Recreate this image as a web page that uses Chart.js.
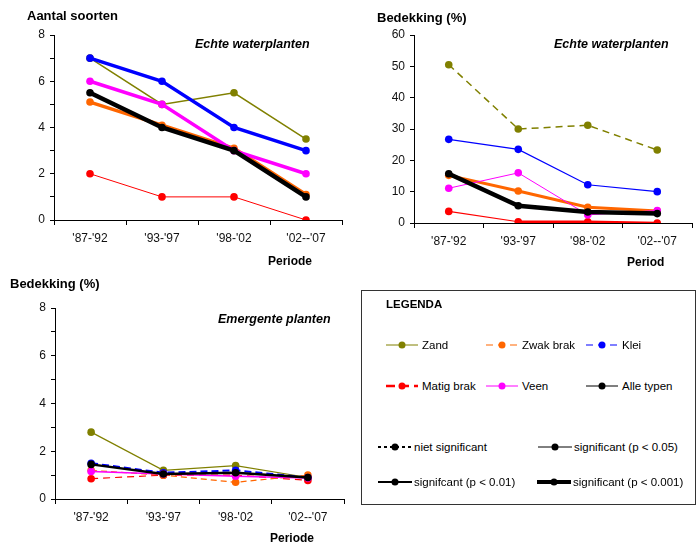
<!DOCTYPE html>
<html>
<head>
<meta charset="utf-8">
<script src="https://cdn.jsdelivr.net/npm/chart.js@4"></script>
<style>
  body { margin: 0; background: #fff; font-family: Arial, "Liberation Sans", sans-serif; color: #000; }
  #page { position: relative; width: 696px; height: 544px; overflow: hidden; }
  canvas { position: absolute; }
  .txt { position: absolute; white-space: nowrap; line-height: 14px; }
  .b { font-weight: bold; }
  .bi { font-weight: bold; font-style: italic; font-size: 12.5px; }
  .ytitle { font-weight: bold; font-size: 13px; }
  .xtitle { font-weight: bold; font-size: 12px; }
  #legend { position: absolute; left: 361px; top: 290px; width: 333px; height: 213px; border: 1px solid #333; }
  .lg { position: absolute; white-space: nowrap; font-size: 11.5px; line-height: 14px; }
  .sw { position: absolute; }
</style>
</head>
<body>
<div id="page">
  <canvas id="c1" width="350" height="270" style="left:0;top:0"></canvas>
  <canvas id="c2" width="346" height="270" style="left:350px;top:0"></canvas>
  <canvas id="c3" width="360" height="274" style="left:0;top:270px"></canvas>

  <div class="txt ytitle" style="left:27px;top:9px">Aantal soorten</div>
  <div class="txt bi" style="left:195px;top:37px">Echte waterplanten</div>
  <div class="txt xtitle" style="left:268px;top:254px">Periode</div>

  <div class="txt ytitle" style="left:377px;top:11px">Bedekking (%)</div>
  <div class="txt bi" style="left:554px;top:37px">Echte waterplanten</div>
  <div style="position:absolute;left:620px;top:250px;width:44px;height:17px;overflow:hidden">
    <div class="txt xtitle" style="left:7px;top:5px">Periode</div>
  </div>

  <div class="txt ytitle" style="left:10px;top:277px">Bedekking (%)</div>
  <div class="txt bi" style="left:218px;top:312px">Emergente planten</div>
  <div class="txt xtitle" style="left:270px;top:531px">Periode</div>

  <div id="legend"></div>
</div>

<script>
// categories
const periods = ["'87-'92", "'93-'97", "'98-'02", "'02--'07"];
const groups = ["Zand", "Zwak brak", "Klei", "Matig brak", "Veen", "Alle typen"];
const sigLabels = ["niet significant", "significant (p < 0.05)", "signifcant (p < 0.01)", "significant (p < 0.001)"];

// Aantal soorten - echte waterplanten
const soortenZand = [7, 5, 5.5, 3.5];
const soortenZwakBrak = [5.1, 4.1, 3.1, 1.1];
const soortenKlei = [7, 6, 4, 3];
const soortenMatigBrak = [2, 1, 1, 0];
const soortenVeen = [6, 5, 3, 2];
const soortenAlle = [5.5, 4, 3, 1];

// Bedekking - echte waterplanten
const bedekZand = [50.5, 30, 31.2, 23.3];
const bedekZwakBrak = [15.2, 10.2, 5, 3.8];
const bedekKlei = [26.7, 23.5, 12.2, 10];
const bedekMatigBrak = [3.7, 0.4, 0.4, 0];
const bedekVeen = [11.1, 16, 2.6, 4];
const bedekAlle = [15.7, 5.5, 3.5, 3];

// Bedekking - emergente planten
const emergZand = [2.8, 1.2, 1.4, 0.9];
const emergZwakBrak = [1.2, 1.0, 0.7, 1.0];
const emergKlei = [1.5, 1.1, 1.2, 0.9];
const emergMatigBrak = [0.85, 1.0, 1.0, 0.78];
const emergVeen = [1.15, 1.05, 0.95, 0.88];
const emergAlle = [1.45, 1.05, 1.1, 0.9];

const colors = ["#808000", "#FF6600", "#0000FF", "#FF0000", "#FF00FF", "#000000"];
const drawOrder = [6, 4, 3, 5, 2, 1];
const FONT = "Arial, 'Liberation Sans', sans-serif";

function makeSets(values, styles) {
  return values.map((v, i) => {
    const s = styles[i];
    const ds = {
      label: groups[i],
      data: v,
      borderColor: colors[i],
      backgroundColor: colors[i],
      pointBackgroundColor: colors[i],
      pointBorderColor: colors[i],
      pointBorderWidth: 0,
      pointRadius: s.r || 3.8,
      borderWidth: s.w,
      borderDash: s.dash || [],
      order: drawOrder[i],
      tension: 0,
      fill: false
    };
    if (s.segW) ds.segment = { borderWidth: s.segW };
    return ds;
  });
}

function makeChart(id, sets, yMax, step, labelEvery, pad, yWidth, xHeight) {
  new Chart(document.getElementById(id), {
    type: "line",
    data: { labels: periods, datasets: sets },
    options: {
      responsive: false,
      animation: false,
      layout: { padding: pad },
      plugins: { legend: { display: false }, tooltip: { enabled: false } },
      scales: {
        x: {
          offset: true,
          grid: { offset: true, drawOnChartArea: false, drawTicks: true, tickLength: 5, color: "#000" },
          border: { color: "#000", width: 1 },
          ticks: { color: "#111", font: { size: 12, family: FONT }, padding: 6, maxRotation: 0, autoSkip: false },
          afterFit: s => { s.height = xHeight; }
        },
        y: {
          min: 0, max: yMax,
          grid: { drawOnChartArea: false, drawTicks: true, tickLength: 4, color: "#000" },
          border: { color: "#000", width: 1 },
          ticks: {
            stepSize: step, color: "#111", font: { size: 12, family: FONT }, padding: 5,
            callback: v => (v % labelEvery === 0 ? v : "")
          },
          afterFit: s => { s.width = yWidth; }
        }
      }
    }
  });
}

makeChart("c1", makeSets(
  [soortenZand, soortenZwakBrak, soortenKlei, soortenMatigBrak, soortenVeen, soortenAlle],
  [{ w: 1.5 }, { w: 3.5 }, { w: 3.5 }, { w: 1 }, { w: 3.5 }, { w: 4.5 }]
), 8, 1, 2, { left: 0, top: 35, right: 8, bottom: 0 }, 54, 50);

makeChart("c2", makeSets(
  [bedekZand, bedekZwakBrak, bedekKlei, bedekMatigBrak, bedekVeen, bedekAlle],
  [{ w: 1.5, dash: [7, 5] }, { w: 3 }, { w: 1.2 }, { w: 1.2, segW: c => (c.p0DataIndex === 0 ? 1.2 : 2.5) }, { w: 1 }, { w: 4.5 }]
), 60, 5, 10, { left: 0, top: 35, right: 0, bottom: 0 }, 64, 47);

makeChart("c3", makeSets(
  [emergZand, emergZwakBrak, emergKlei, emergMatigBrak, emergVeen, emergAlle],
  [{ w: 1.2 }, { w: 1.2, dash: [6, 4] }, { w: 2, dash: [7, 4] }, { w: 1.2, dash: [7, 5] }, { w: 1.5 }, { w: 2.5 }]
), 8, 1, 2, { left: 0, top: 38, right: 16, bottom: 0 }, 55, 45);

// legend (html + small svg swatches)
const legend = document.getElementById("legend");
const L0 = 361, T0 = 290;
function addText(txt, x, y, bold) {
  const d = document.createElement("div");
  d.className = "lg";
  if (bold) d.style.fontWeight = "bold";
  d.textContent = txt;
  d.style.left = (x - L0 - 1) + "px";
  d.style.top = (y - T0 - 1 - 7) + "px";
  legend.appendChild(d);
}
function addSwatch(x1, x2, y, color, width, dash) {
  const w = x2 - x1;
  const ns = "http://www.w3.org/2000/svg";
  const svg = document.createElementNS(ns, "svg");
  svg.setAttribute("width", w);
  svg.setAttribute("height", 12);
  svg.setAttribute("class", "sw");
  svg.style.left = (x1 - L0 - 1) + "px";
  svg.style.top = (y - T0 - 1 - 6) + "px";
  const ln = document.createElementNS(ns, "line");
  ln.setAttribute("x1", 0); ln.setAttribute("x2", w);
  ln.setAttribute("y1", 6); ln.setAttribute("y2", 6);
  ln.setAttribute("stroke", color);
  ln.setAttribute("stroke-width", width);
  if (dash) ln.setAttribute("stroke-dasharray", dash);
  svg.appendChild(ln);
  const c = document.createElementNS(ns, "circle");
  c.setAttribute("cx", w / 2); c.setAttribute("cy", 6); c.setAttribute("r", 3.5);
  c.setAttribute("fill", color);
  svg.appendChild(c);
  legend.appendChild(svg);
}

addText("LEGENDA", 386, 304, true);
const groupPos = [[386, 345], [486, 345], [586, 345], [386, 386], [486, 386], [586, 386]];
const groupStroke = [[1, null], [1.2, "7,5"], [1.2, "7,5"], [2.5, "9,5"], [1, null], [1, null]];
groups.forEach((g, i) => {
  const [x, y] = groupPos[i];
  addSwatch(x, x + 32, y, colors[i], groupStroke[i][0], groupStroke[i][1]);
  addText(g, x + 36, y, false);
});
const sigPos = [[378, 447], [538, 447], [378, 482], [537, 482]];
const sigStroke = [[2, "3,3"], [1, null], [2, null], [4, null]];
sigLabels.forEach((t, i) => {
  const [x, y] = sigPos[i];
  addSwatch(x, x + 34, y, "#000", sigStroke[i][0], sigStroke[i][1]);
  addText(t, x + 36, y, false);
});
</script>
</body>
</html>
